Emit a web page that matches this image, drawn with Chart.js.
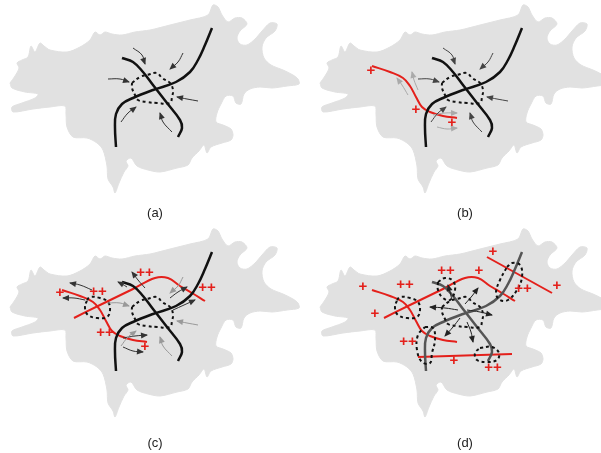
<!DOCTYPE html>
<html>
<head>
<meta charset="utf-8">
<script src="https://cdn.jsdelivr.net/npm/chart.js@4/dist/chart.umd.min.js"></script>
<style>
  body { margin: 0; background: #fff; }
  canvas { display: block; }
</style>
</head>
<body>
<canvas id="sketch" width="601" height="453"></canvas>
<script>
'use strict';

// panel origins (a, b, c, d) and caption positions
const panelNames = ['(a)', '(b)', '(c)', '(d)'];
const panelOffsets = [[0, 0], [310, 0], [0, 224], [310, 224]];
const captionPos = [[155, 213], [465, 213], [155, 443], [465, 443]];

// grey region outline, panel-local coordinates
const blob = [[10,83],[15,76],[19,68],[17,63],[22,60],[28,57],[31,46],[35,52],[40,43],[44,46],[50,50],[67,52],[80,47],[90,40],[95,32],[100,35],[105,32],[112,34],[122,35],[135,32],[150,30],[170,25],[190,20],[208,15],[213,5],[218,7],[222,15],[228,22],[235,18],[242,18],[247,24],[240,31],[237,38],[240,44],[247,45],[255,39],[262,31],[270,23],[277,24],[275,31],[266,38],[262,47],[264,58],[271,65],[283,70],[293,75],[298,79],[299,84],[287,86],[272,88],[260,87],[250,89],[244,94],[241,104],[236,103],[233,96],[226,96],[221,104],[217,113],[216,122],[223,125],[231,129],[233,135],[231,140],[222,143],[211,147],[207,153],[204,145],[199,151],[192,158],[188,165],[177,168],[160,172],[148,170],[137,166],[131,158],[126,161],[128,166],[124,172],[119,183],[115,193],[113,187],[108,179],[107,166],[103,150],[97,143],[87,138],[73,137],[67,127],[66,114],[65,106],[50,107],[33,109],[13,112],[12,107],[22,103],[35,98],[38,94],[25,92],[12,88],[10,83]];

// the two crossing lines
const lineOne = [[212,28],[205,45],[198,60],[190,72],[176,82],[153,90],[133,98],[122,104],[116,114],[115,128],[116,147]];
const lineTwo = [[122,58],[133,62],[143,72],[153,85],[167,103],[180,120],[182,128],[178,137]];

// dotted loops
const loopMain = [[132,83],[140,77],[147,75],[157,73],[162,78],[170,83],[173,90],[172,97],[170,103],[157,103],[147,102],[138,100],[135,95],[132,88],[132,83]];
const loopLeft = [[87,76],[90,73],[100,74],[108,78],[110,86],[107,93],[97,94],[88,91],[85,84],[87,76]];
const loopTop = [[128,58],[135,54],[143,57],[145,66],[140,76],[133,74],[128,66],[128,58]];
const loopRight = [[197,43],[202,39],[210,41],[212,53],[207,66],[198,76],[190,76],[186,69],[190,56],[197,43]];
const loopLow = [[115,103],[123,104],[125,116],[122,129],[120,139],[112,138],[107,126],[108,111],[115,103]];
const loopFoot = [[170,124],[182,123],[189,129],[187,136],[177,138],[167,136],[165,129],[170,124]];

// red lines
const redS = [[62,66],[80,72],[93,78],[100,86],[106,97],[112,107],[120,112],[133,116],[147,118]];
const redArc = [[74,94],[100,81],[133,65],[155,54],[168,54],[180,62],[192,69],[205,77]];
const redTop = [[177,33],[242,69]];
const redLow = [[108,133],[202,130]];

// arrows pointing into the main loop
const arrowsIn = [
    [[133,48],[142,55],[145,64]],
    [[183,53],[178,62],[170,69]],
    [[108,79],[120,79],[129,82]],
    [[198,101],[187,99],[177,97]],
    [[121,122],[128,113],[136,107]],
    [[172,132],[163,122],[160,113]]
];
const arrowsB = [
    [[98,95],[92,85],[87,78]],
    [[108,90],[104,80],[102,72]],
    [[123,115],[135,113],[147,113]],
    [[127,127],[137,129],[147,128]]
];
const arrowsC = [
    [[92,66],[80,61],[70,59]],
    [[85,76],[74,74],[63,74]],
    [[145,64],[138,56],[132,48]],
    [[127,63],[122,60],[118,58]],
    [[173,86],[184,81],[195,76]],
    [[170,74],[178,68],[187,63]],
    [[123,114],[135,112],[147,111]],
    [[123,123],[133,127],[143,128]]
];
const arrowsD = [
    [[155,80],[162,72],[168,64]],
    [[157,86],[170,88],[182,91]],
    [[148,86],[135,84],[120,83]],
    [[142,76],[140,68],[138,61]],
    [[150,94],[143,103],[135,112]],
    [[157,98],[161,108],[163,118]]
];

// red marks
const marksB = [[61,71,'+'],[106,110,'+'],[142,123,'+']];
const marksC = [[145,49,'++'],[98,68,'++'],[60,69,'+'],[207,64,'++'],[105,109,'++'],[145,123,'+']];
const marksD = [[53,63,'+'],[95,61,'++'],[65,90,'+'],[136,47,'++'],[169,47,'+'],[183,28,'+'],[213,65,'++'],[247,62,'+'],[98,118,'++'],[144,137,'+'],[183,144,'++']];

const RED = '#e4201b';
const datasets = [];
const texts = [];

function shift(pts, off) {
    return pts.map(p => ({ x: p[0] + off[0], y: p[1] + off[1] }));
}

function addLine(pts, off, style) {
    datasets.push(Object.assign({
        data: shift(pts, off),
        showLine: true,
        pointRadius: 0,
        fill: false,
        tension: 0.4,
        borderWidth: 2,
        borderColor: '#111'
    }, style));
}

function addArrows(list, off, color) {
    list.forEach(a => addLine(a, off, { borderColor: color, borderWidth: 1, arrowHead: true, order: 0 }));
}

function addMarks(list, off) {
    list.forEach(m => texts.push({ x: m[0] + off[0], y: m[1] + off[1], t: m[2], color: RED, font: 'bold 15px "Liberation Sans", Arial, sans-serif' }));
}

panelOffsets.forEach((off, i) => {
    addLine(blob, off, { fill: 'shape', backgroundColor: '#e1e1e1', borderColor: '#e1e1e1', borderWidth: 1, tension: 0.3, order: 10 });
    const lineColor = i === 3 ? '#555' : '#111';
    addLine(lineOne, off, { borderColor: lineColor, borderWidth: 2.5, order: 2 });
    addLine(lineTwo, off, { borderColor: lineColor, borderWidth: 2.5, order: 2 });
    addLine(loopMain, off, { borderColor: '#111', borderWidth: 2, borderDash: [3, 3], order: 1 });
    texts.push({ x: captionPos[i][0], y: captionPos[i][1], t: panelNames[i], color: '#222', font: '13px "Liberation Sans", Arial, sans-serif' });
});

// (a)
addArrows(arrowsIn, panelOffsets[0], '#333');

// (b)
addArrows(arrowsIn, panelOffsets[1], '#444');
addArrows(arrowsB, panelOffsets[1], '#aaa');
addLine(redS, panelOffsets[1], { borderColor: RED, order: 3 });
addMarks(marksB, panelOffsets[1]);

// (c)
addLine(loopLeft, panelOffsets[2], { borderColor: '#111', borderWidth: 2, borderDash: [3, 3], order: 1 });
addArrows(arrowsIn.slice(1), panelOffsets[2], '#999');
addArrows(arrowsC, panelOffsets[2], '#333');
addLine(redS, panelOffsets[2], { borderColor: RED, order: 3 });
addLine(redArc, panelOffsets[2], { borderColor: RED, order: 3 });
addMarks(marksC, panelOffsets[2]);

// (d)
[loopLeft, loopTop, loopRight, loopLow, loopFoot].forEach(l =>
    addLine(l, panelOffsets[3], { borderColor: '#111', borderWidth: 2, borderDash: [3, 3], order: 1 }));
addArrows(arrowsD, panelOffsets[3], '#222');
addLine(redS, panelOffsets[3], { borderColor: RED, order: 3 });
addLine(redArc, panelOffsets[3], { borderColor: RED, order: 3 });
addLine(redTop, panelOffsets[3], { borderColor: RED, tension: 0, order: 3 });
addLine(redLow, panelOffsets[3], { borderColor: RED, tension: 0, order: 3 });
addMarks(marksD, panelOffsets[3]);

const arrowPlugin = {
    id: 'arrowHeads',
    afterDatasetsDraw(chart) {
        const ctx = chart.ctx;
        chart.data.datasets.forEach((ds, i) => {
            if (!ds.arrowHead) return;
            const pts = chart.getDatasetMeta(i).data;
            const end = pts[pts.length - 1], prev = pts[pts.length - 2];
            const ang = Math.atan2(end.y - prev.y, end.x - prev.x);
            ctx.save();
            ctx.translate(end.x, end.y);
            ctx.rotate(ang);
            ctx.fillStyle = ds.borderColor;
            ctx.beginPath();
            ctx.moveTo(1, 0);
            ctx.lineTo(-6, -3);
            ctx.lineTo(-6, 3);
            ctx.closePath();
            ctx.fill();
            ctx.restore();
        });
    }
};

const textPlugin = {
    id: 'labels',
    afterDraw(chart) {
        const ctx = chart.ctx, sx = chart.scales.x, sy = chart.scales.y;
        ctx.save();
        ctx.textAlign = 'center';
        ctx.textBaseline = 'middle';
        texts.forEach(t => {
            ctx.font = t.font;
            ctx.fillStyle = t.color;
            ctx.fillText(t.t, sx.getPixelForValue(t.x), sy.getPixelForValue(t.y));
        });
        ctx.restore();
    }
};

new Chart(document.getElementById('sketch'), {
    type: 'scatter',
    data: { datasets },
    options: {
        responsive: false,
        animation: false,
        events: [],
        layout: { padding: 0 },
        scales: {
            x: { type: 'linear', min: 0, max: 601, display: false },
            y: { type: 'linear', min: 0, max: 453, reverse: true, display: false }
        },
        plugins: { legend: { display: false }, tooltip: { enabled: false } }
    },
    plugins: [arrowPlugin, textPlugin]
});
</script>
</body>
</html>
